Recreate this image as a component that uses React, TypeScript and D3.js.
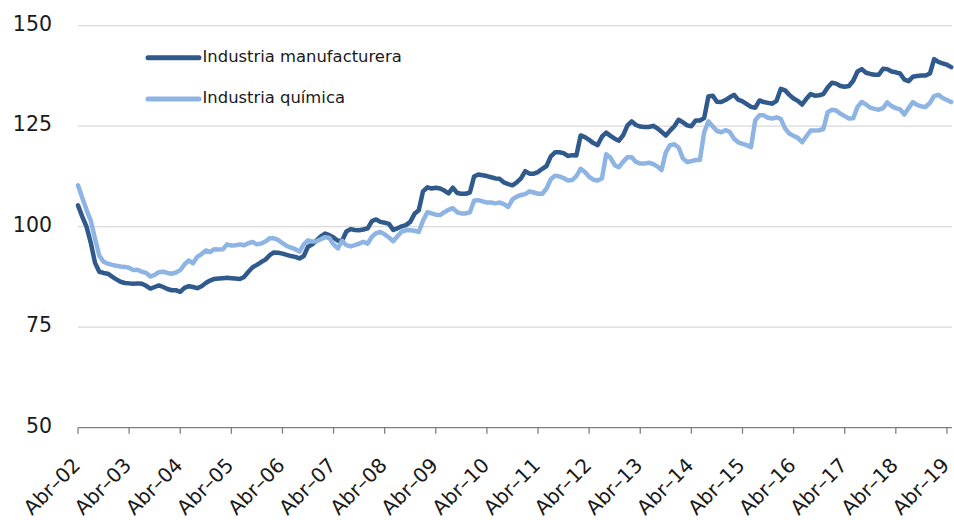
import React from "react";
import * as d3 from "d3";

const manufacturera: number[] = [
  105.3, 102.5, 100, 96, 91, 88.8, 88.5, 88.3, 87.6, 86.9, 86.3, 86,
  85.9, 85.8, 85.9, 85.8, 85.3, 84.6, 85, 85.4, 85, 84.5, 84.2, 84.2,
  83.8, 84.8, 85.2, 85, 84.7, 85.2, 86, 86.6, 87, 87.1, 87.2, 87.3,
  87.2, 87.1, 87, 87.5, 88.8, 89.9, 90.5, 91.2, 91.8, 92.9, 93.6, 93.5,
  93.3, 93, 92.7, 92.5, 92.1, 92.7, 95, 95.6, 96.6, 97.6, 98.3, 97.9,
  97.3, 96.5, 96.5, 98.8, 99.4, 99.2, 99.1, 99.3, 99.6, 101.4, 101.8, 101.2,
  101, 100.7, 99.2, 99.6, 100.1, 100.4, 101.2, 103.2, 104.1, 108.8, 109.8, 109.5,
  109.7, 109.5, 109, 108.3, 109.7, 108.4, 108.2, 108.2, 108.5, 112.5, 113, 112.8,
  112.6, 112.3, 112, 111.9, 111, 110.6, 110.3, 111, 112, 113.8, 113.2, 113.2,
  113.6, 114.4, 115.1, 117.5, 118.5, 118.5, 118.3, 117.6, 117.8, 117.7, 122.7, 122.3,
  121.6, 120.8, 120.3, 122.4, 123.4, 122.6, 121.9, 121.4, 122.8, 125.2, 126.2, 125.3,
  124.9, 124.8, 124.8, 125.1, 124.5, 123.6, 122.7, 123.9, 125, 126.6, 126, 125.2,
  125, 126.4, 126.4, 127, 132.4, 132.6, 131.1, 131, 131.5, 132.2, 132.8, 131.6,
  131.2, 130.5, 129.8, 129.6, 131.4, 131, 130.8, 130.6, 131.3, 134.3, 133.9, 132.8,
  131.9, 131.3, 130.4, 131.8, 133, 132.6, 132.7, 133, 134.6, 135.8, 135.6, 135,
  134.8, 135, 136.3, 138.6, 139.2, 138.3, 138, 137.8, 137.8, 139.3, 139.2, 138.6,
  138.4, 138.1, 136.6, 136.2, 137.3, 137.5, 137.6, 137.6, 138.1, 141.7, 141, 140.6,
  140.3, 139.7,
];

const quimica: number[] = [
  110.3, 107.2, 104.2, 101.5, 97, 92.8, 91.3, 90.8, 90.5, 90.3, 90.1, 90,
  89.8, 89.2, 89.3, 88.8, 88.5, 87.6, 88, 88.7, 88.8, 88.5, 88.3, 88.6,
  89.2, 90.6, 91.6, 90.9, 92.5, 93.2, 94.1, 93.7, 94.4, 94.3, 94.4, 95.6,
  95.3, 95.4, 95.6, 95.4, 95.9, 96.2, 95.6, 95.8, 96.3, 97.1, 97.1, 96.7,
  95.9, 95.2, 94.8, 94.4, 93.8, 95.6, 96.6, 96.3, 96.4, 96.9, 97.4, 97.2,
  95.6, 94.6, 96.5, 95.4, 95.1, 95.4, 95.8, 96.2, 95.8, 97.5, 98.4, 98.7,
  98.1, 97.3, 96.4, 97.6, 98.8, 99.1, 99.1, 99, 98.7, 101.5, 103.6, 103.3,
  103, 102.9, 103.6, 104.2, 104.6, 103.6, 103.3, 103.3, 103.6, 106.5, 106.6, 106.3,
  106, 106, 105.8, 106, 105.6, 104.9, 106.8, 107.5, 107.9, 108.1, 108.8, 108.5,
  108.2, 108.2, 109.5, 111.8, 112.7, 112.5, 112.1, 111.5, 111.6, 112.6, 114.4, 113.6,
  112.4, 111.7, 111.5, 112, 118, 117.2, 115.3, 114.8, 116.2, 117.3, 117.3, 116.1,
  115.7, 115.7, 115.9, 115.6, 115, 114.1, 118.5, 120.3, 120.5, 119.7, 117, 116.1,
  116.3, 116.6, 116.6, 123.5, 126.2, 125, 123.8, 123.5, 124, 123.6, 121.9, 121,
  120.6, 120.3, 119.8, 126.5, 127.7, 127.7, 127.1, 126.9, 127.2, 126.8, 124.4, 123.2,
  122.6, 122.1, 121, 122.5, 123.9, 123.9, 124, 124.3, 128.5, 129.1, 128.9, 128.1,
  127.5, 126.9, 127, 129.8, 131, 130.4, 129.6, 129.3, 129.1, 129.5, 130.9, 130,
  129.5, 129.2, 127.9, 129.5, 131, 130.3, 129.9, 129.8, 130.8, 132.5, 132.8, 132,
  131.5, 131,
];

const yearLabels: string[] = [
  "02", "03", "04", "05", "06", "07", "08", "09", "10",
  "11", "12", "13", "14", "15", "16", "17", "18", "19",
];
const yTicks: number[] = [50, 75, 100, 125, 150];
const seriesNames: string[] = ["Industria manufacturera", "Industria química"];
const colors: string[] = ["#30598c", "#8db4e2"];

const W = 954;
const H = 520;
const FONT = "'DejaVu Sans', Verdana, sans-serif";

export default function App() {
  const n = manufacturera.length;
  const x = d3.scaleLinear().domain([0, n - 1]).range([78, 951.2]);
  const y = d3.scaleLinear().domain([50, 150]).range([427.7, 25.7]);
  const line = d3
    .line<number>()
    .x((_, i) => x(i))
    .y((d) => y(d))
    .curve(d3.curveLinear);

  const series = [manufacturera, quimica];

  return (
    <div>
      <style>{`body{margin:0}`}</style>
      <svg width={W} height={H} style={{ display: "block", background: "#fff" }}>
        {/* gridlines */}
        {yTicks
          .filter((t) => t !== 50)
          .map((t) => (
            <line
              key={"g" + t}
              x1={78}
              x2={952}
              y1={y(t)}
              y2={y(t)}
              stroke="#d9d9d9"
              strokeWidth={1.3}
            />
          ))}
        {/* y labels */}
        {yTicks.map((t) => (
          <text
            key={"yl" + t}
            x={52}
            y={y(t) + 5}
            textAnchor="end"
            fontFamily={FONT}
            fontSize={20.5}
            fill="#1a1a1a"
          >
            {t}
          </text>
        ))}
        {/* x axis */}
        <line x1={78} x2={952} y1={y(50)} y2={y(50)} stroke="#7f7f7f" strokeWidth={1.3} />
        {yearLabels.map((lab, i) => {
          const tx = x(i * 12);
          return (
            <g key={"xt" + lab}>
              <line x1={tx} x2={tx} y1={y(50)} y2={y(50) + 6} stroke="#7f7f7f" strokeWidth={1.3} />
              <text
                transform={`translate(${tx + 3.5},${466.5}) rotate(-45)`}
                textAnchor="end"
                fontFamily={FONT}
                fontSize={20}
                fill="#1a1a1a"
              >
                {"Abr–" + lab}
              </text>
            </g>
          );
        })}
        {/* series */}
        {series.map((s, k) => (
          <path
            key={"s" + k}
            d={line(s) || ""}
            fill="none"
            stroke={colors[k]}
            strokeWidth={4.5}
            strokeLinejoin="round"
            strokeLinecap="round"
          />
        ))}
        {/* legend */}
        {seriesNames.map((name, k) => {
          const ly = k === 0 ? 57.7 : 99;
          return (
            <g key={"lg" + k}>
              <line
                x1={148}
                x2={199}
                y1={ly}
                y2={ly}
                stroke={colors[k]}
                strokeWidth={5}
                strokeLinecap="round"
              />
              <text
                x={202.5}
                y={ly + 3.8}
                fontFamily={FONT}
                fontSize={16.4}
                fill="#1a1a1a"
              >
                {name}
              </text>
            </g>
          );
        })}
      </svg>
    </div>
  );
}
